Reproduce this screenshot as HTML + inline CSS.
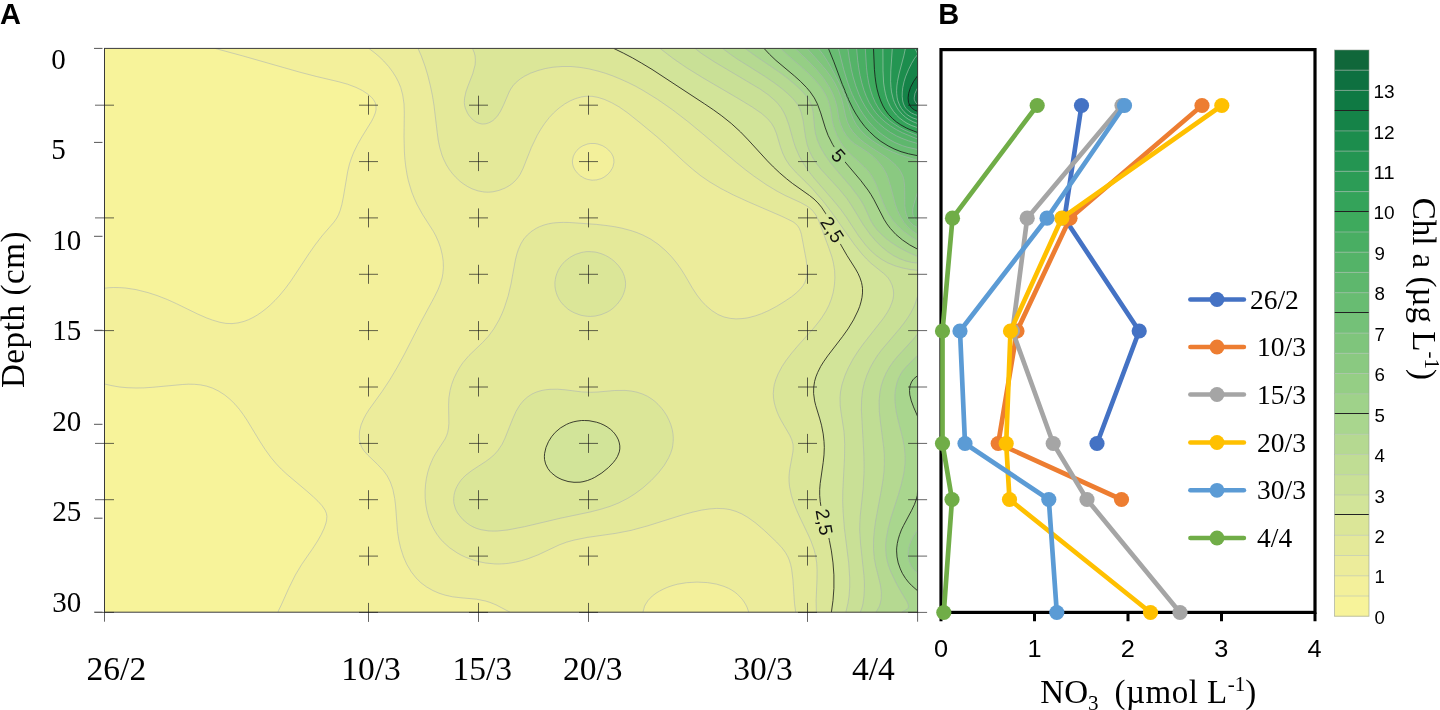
<!DOCTYPE html>
<html><head><meta charset="utf-8"><title>Figure</title>
<style>html,body{margin:0;padding:0;background:#fff;overflow:hidden}svg{display:block}</style></head>
<body><svg width="1440" height="710" viewBox="0 0 1440 710" style="opacity:0.999">
<rect width="1440" height="710" fill="#fff"/>
<defs><mask id="lblmask" maskUnits="userSpaceOnUse" x="0" y="0" width="1440" height="710"><rect x="0" y="0" width="1440" height="710" fill="#fff"/><rect x="829.5" y="146.5" width="18" height="18" fill="#000" transform="rotate(48 838.5 155.5)"/><rect x="816" y="220.5" width="33" height="18" fill="#000" transform="rotate(57 832.5 229.5)"/><rect x="808" y="513" width="33" height="18" fill="#000" transform="rotate(80 824.5 522)"/></mask><clipPath id="plotclip"><rect x="104.5" y="48.4" width="813.1" height="563.8"/></clipPath></defs>
<text x="0" y="24.3" font-family='"Liberation Sans", sans-serif' font-weight="700" font-size="29">A</text>
<text x="938.2" y="24.3" font-family='"Liberation Sans", sans-serif' font-weight="700" font-size="29">B</text>
<g clip-path="url(#plotclip)">
<rect x="104.5" y="48.4" width="813.1" height="563.8" fill="#f7f39a"/>
<path d="M215,48.4 917.6,48.4 917.6,612.2 278,612.2 278.5,610.6 288.7,588.4 295.4,574.9 301.7,564.4 316.1,543.4 319.7,537.4 322.8,531.4 325.2,525.4 326.8,519.4 326.7,514.9 325.2,510.4 322,505.6 315,498.4 308.4,492.4 287,474.4 280.6,468.4 275.5,463 270,456.4 264.7,448.9 247,420.2 239.5,409.5 235,404.2 230.1,399.4 224.6,394.9 218.5,391 212.5,388.1 206.5,386.1 200.5,384.9 194.5,384.3 182.5,384.5 152.5,387.3 136,388 127,387.7 119.5,387 112,385.7 104.5,384 104.5,288.2 113.5,287.5 125.5,288 136,289.6 148,292.6 157,295.5 167.5,299.6 197.4,313.9 207.8,318.4 216.4,321.4 223,323 227.5,323.5 232,323.6 236.5,323.2 241,322.3 245.5,320.9 250,319 254.5,316.7 259.1,313.9 265,309.5 271,304.3 277,298.3 283,291.4 293,277.9 308.8,253.9 316,243.6 322,235.9 332.5,223.9 337,217.7 339.7,211.9 341.5,205.9 343.4,196.9 347.4,172.9 349.1,165.4 351,159.4 353.9,151.9 357.6,144.4 361.9,136.9 371.5,121.3 373.5,117.4 375.7,111.4 376.1,108.4 376,105.4 375.1,102.4 373.3,99.4 371.5,97.3 368.5,94.6 364,91.5 359.5,89 350.5,85.2 340,82.1 316,76.4 298,71.7 242.7,55.9 215.5,48.6Z" fill="#f3f09b" fill-rule="evenodd"/>
<path d="M368.8,48.4 917.6,48.4 917.6,612.2 748.7,612.2 747.3,607.9 745.9,604.9 742,599 737.5,594.3 731.4,589.9 724,586.4 716.5,584.1 707.5,582.6 697,582.1 686.5,582.7 677.5,584.2 668.5,586.9 659.5,591.1 656.5,592.9 652.4,595.9 648.1,600.4 645.2,604.9 643,612.2 510,612.2 496.1,604.9 490,602.4 485.5,601 476.5,599.2 452.5,596.8 446.5,595.5 440.5,593.7 433,590.6 427,587.2 422.4,583.9 417.4,579.4 412.3,573.4 407.6,565.9 403.5,556.9 400.6,547.9 398.9,540.4 397.5,531.4 395.6,505.9 394.7,498.4 393.2,490.9 390.9,483.4 388,477.2 383.5,470.8 379,465.9 366.2,453.4 362.6,448.9 361,445.7 359.7,441.4 359.3,438.4 359.3,433.9 359.9,429.4 361.1,424.9 362.9,420.4 365.1,415.9 370.9,406.9 385,387.3 395.5,370.4 403,356.8 422,319.9 436.5,292.9 440.3,283.9 442.4,276.4 443.4,268.9 443.2,261.4 442.7,256.9 441.4,250.9 439.6,244.9 437.5,239.5 433,230.6 422.5,214.4 417,204.4 411.9,192.4 408.3,180.4 405.8,166.9 404.4,151.9 404,136.9 404.3,112.9 404,103.9 402.7,94.9 400.7,87.4 398.5,82.1 395.8,76.9 393,72.4 389.5,67.6 385,62.4 380.5,57.9 376,53.9 370,49.3ZM587.5,144 583,145.7 580.1,147.4 577,150.2 575.5,152.1 573.9,154.9 572.6,159.4 572.4,162.4 572.9,165.4 574.1,168.4 577,172.7 580,175.5 582.8,177.4 586,178.9 590.5,180 593.5,180.2 598,179.6 601,178.7 604,177.2 607,175.1 610,171.9 612.2,168.4 613.3,165.4 614,160.9 613.5,157.9 612.3,154.9 610,151.5 607,148.6 604,146.5 601,145.1 596.5,143.8 592,143.4 589,143.7Z" fill="#ecec9b" fill-rule="evenodd"/>
<path d="M418,48.4 917.6,48.4 917.6,612.2 795.7,612.2 794.5,603.4 792.9,579.4 791.6,568.9 790.6,564.4 789.2,559.9 787.2,555.4 785.4,552.4 780.7,546.4 772,537.6 761.5,527.9 752.5,520.6 745,515.7 739,512.6 733,510.4 727,509 721,508.5 715,508.5 707.5,509.2 700,510.4 683.5,514.6 647.5,525.9 631,530.4 616,533.3 587.4,537.4 572.9,540.4 566.5,542.2 559.2,544.9 539.5,554.2 529,558.4 517,561.8 506.5,563.5 497.5,564 488.5,563.4 479.5,561.8 470.5,559.2 461.5,555.3 454,550.9 448,546.4 441.7,540.4 437.5,535.1 434.2,529.9 431.2,523.9 428.4,516.4 426.8,510.4 425.6,502.9 425.1,495.4 425.2,487.9 426.1,480.4 427.3,474.4 428.9,468.4 431.2,462.4 435.7,453.4 445,439.1 446.7,435.4 447.7,432.4 448.5,427.9 448.9,423.4 448.6,405.4 448.8,399.4 449.5,393.4 451.2,385.9 453.3,379.9 456,373.9 458.5,369.3 462.4,363.4 469,355.5 482.7,342.4 488.3,336.4 493.8,328.9 499,320 504.3,307.9 508.2,295.9 511,283.9 515.4,259.9 518.4,249.4 521.1,243.4 523.9,238.9 527.5,234.8 532,231 536.1,228.4 539.5,226.7 544,225 548.5,223.8 557.5,222.6 569.5,222.5 596.5,224.4 614.5,226.7 622,228.2 631,230.6 637,232.6 643,235.1 650.5,239 658,244.1 665.5,250.5 671.5,256.7 676.6,262.9 680.9,268.9 692.5,288.3 697,295.1 701.5,300.9 706,305.7 712,310.7 718,314.5 724,317 730.4,318.4 736,318.9 742,318.6 748,317.8 755.5,315.8 761.5,313.7 769,310.4 776.5,306.4 784,301.8 791.5,296.8 796,293.2 800.5,288.9 803.2,285.4 805,282.2 806.5,277.9 807.2,273.4 807.2,268.9 806.2,259.9 801.4,234.4 799.3,228.4 797.5,225.7 795.8,223.9 791.5,221 782,216.4 748,201.7 733,194.8 721,188.6 709.7,181.9 700.9,175.9 692.5,169.2 683.5,161.3 657.1,136.9 627.7,112.9 619.1,106.9 611.5,102.6 604.3,99.4 598,97.4 592,96.3 586,96.3 581.5,96.9 575.5,98.6 570.1,100.9 564.8,103.9 559,108.1 553.6,112.9 549.4,117.4 544.7,123.4 540.7,129.4 537.2,135.4 531.4,147.4 523,168.6 520,174.6 515.5,180.5 512.5,183.3 509.5,185.5 505,188.1 499,190.4 493,191.8 488.5,192.2 484,192 478,190.9 472,188.8 467.5,186.5 460,181.3 455.8,177.4 452.5,173.7 449.5,169.8 446.5,165.1 443.7,159.4 442,155.2 439.7,147.4 438.2,139.9 434,105.4 430.4,85.9 427.8,75.4 425.1,66.4 421.3,55.9 418,48.4Z" fill="#e4e999" fill-rule="evenodd"/>
<path d="M472.5,48.4 917.6,48.4 917.6,612.2 816.4,612.2 816.1,600.4 817.1,570.4 816.7,562.9 815.5,555.4 814,549.4 811,541.1 796.7,510.4 793.7,502.9 791.4,495.4 789.5,486.4 789,477.4 789.9,468.4 792.9,451.9 793.2,448.9 793,444.4 791.8,439.9 790,435.7 781.1,420.4 776.9,411.4 774.2,402.4 773.5,397.9 773.3,393.4 773.8,387.4 775.7,379.9 778.1,373.9 782.1,366.4 786.1,360.4 791.8,352.9 813,328.9 821.5,318.1 826,311 829,305.1 831.4,298.9 833.1,292.9 834.6,283.9 834.9,276.4 834.4,268.9 833.1,261.4 829.9,250.9 819.4,222.4 817,217 814,212.3 811,209.1 806.5,205.8 800.5,202.5 785,195.4 776.6,190.9 766.6,184.9 755.6,177.4 745.6,169.9 736.3,162.4 702.8,133.9 686.4,120.4 670.6,108.4 656.5,98.7 641.5,89.5 626.5,81.8 611.5,75.4 596.5,70.6 587.5,68.6 578.5,67.2 569.5,66.5 562,66.5 553,67.2 545.5,68.5 538,70.5 530.5,73.2 524.5,76.2 520,79.1 515.5,82.9 512.9,85.9 509.2,91.9 503.4,105.4 500.5,111.3 497.5,115.9 494.5,119.2 490,122.3 485.5,123.8 481,123.8 476.5,122.3 472,119 469.3,115.9 467.5,113.2 465.4,108.4 464.6,105.4 464.3,102.4 464.6,97.9 465.9,91.9 472.7,73.9 475.1,64.9 475.4,60.4 475.3,57.4 474.7,54.4 473.2,49.9ZM581.7,252.4 589,251.6 595,252 601.9,253.9 608.2,256.9 614.4,261.4 618.7,265.9 621.8,270.4 624.4,276.4 625.4,280.9 625.4,286.9 623.9,292.9 621.1,298.9 617.5,303.9 613,308.3 607,312.2 601,314.7 595,316.1 587.5,316.3 580,315 574,312.7 568,309.2 563.3,304.9 559,299.1 556.3,292.9 555,286.9 554.9,282.4 555.3,279.4 556.9,273.4 559.9,267.4 563.5,262.8 568.4,258.4 574,255.1 577,253.8 581.5,252.4ZM542,390.4 550,389.3 557.5,389.2 565,389.8 581.5,391.9 590.5,392.3 598,392 614.5,390.5 625,390.4 631,391 637,392.2 643,394.2 647.5,396.3 652,399.2 655,401.5 658,404.3 661.7,408.4 666.9,415.9 669.1,420.4 670.9,424.9 672.2,429.4 673,433.9 673.2,441.4 672.1,448.9 670.6,453.4 668.6,457.9 664.2,465.4 658.4,472.9 651.3,480.4 642.9,487.9 634.8,493.9 627.6,498.4 618.8,502.9 610,506.4 601,509.2 590.5,511.9 560.5,518.2 524.5,526.7 507.9,529.9 497.5,531 488.5,530.9 481,529.7 476.5,528.4 473.1,526.9 467.5,523.5 462.7,519.4 458.5,514.3 455.5,508.9 454,503.8 453.7,498.4 454.6,492.4 457,486.4 460.8,480.4 466,475 472,470.4 488.6,459.4 493,455.8 496,452.8 500.1,447.4 503.5,441.5 506.5,434.8 514.6,414.4 517,409.6 520,404.8 524.5,399.6 529,395.9 535,392.6 541,390.6Z" fill="#dbe698" fill-rule="evenodd"/>
<path d="M613.7,48.4 917.6,48.4 917.6,612.2 831.4,612.2 833,600.4 833.9,588.4 833.9,574.9 833,562.9 831.4,550.9 829.4,540.4 821.1,507.4 820.2,501.4 819.7,495.4 819.7,489.4 820.2,483.4 824,454.9 824.3,447.4 824,441.4 823.2,433.9 821.5,425.2 814.6,400.9 813.6,393.4 813.7,387.4 814.6,381.4 815.9,376.9 817.7,372.4 820.7,366.4 826.6,357.4 842.6,336.4 849,327.4 855.1,316.9 859.1,307.9 861,301.9 862,297.4 862.5,292.9 862.5,288.4 861.8,283.9 861.1,280.9 859.4,276.4 857.2,271.9 845.5,253 841,245.1 835,233.2 828,217.9 824.7,211.9 821.7,207.4 818.5,203.6 814,199.1 809.5,195.5 792.4,183.4 779.7,172.9 767.4,160.9 748.2,139.9 740.5,131.9 731.2,123.4 721.8,115.9 704.6,103.9 652,69.4 632.5,57.9 614.5,48.7ZM573.2,421.9 577,421.1 581.5,420.5 589,420.7 596.5,422.2 603.6,424.9 610,428.9 614.5,433.4 617.7,438.4 618.9,441.4 619.6,444.4 619.8,448.9 619.3,451.9 618.2,454.9 616.7,457.9 614.6,460.9 610,466.1 602.5,472.4 595,477.2 587.7,480.4 581.5,482 575.5,482.4 569.5,481.8 563.5,480.2 557.5,477.4 553,474.2 550.1,471.4 548.5,469.4 546.9,466.9 545.6,463.9 544.5,459.4 544.6,453.4 546,447.4 548.5,441.6 551.5,436.8 555.2,432.4 560.5,427.9 566.5,424.4 572.5,422.1Z" fill="#d2e499" fill-rule="evenodd"/>
<path d="M660,48.4 917.6,48.4 917.6,612.2 845.9,612.2 847.9,603.4 849.1,595.9 849.7,586.9 849.7,577.9 848.7,562.9 844.4,528.4 843.1,511.9 842.7,501.4 842.8,490.9 844.5,457.9 844.7,444.4 843.9,430.9 840.2,405.4 840,397.9 840.5,391.9 842,384.4 844.4,376.9 847.5,369.4 852.3,360.4 856.9,352.9 862.1,345.4 884.4,316.9 888.2,310.9 890.5,306.4 892.7,300.4 893.6,294.4 893.3,289.9 891.7,283.9 889.2,279.4 885.3,274.9 871,263.3 866.5,258.9 862,254 854.7,244.9 831.3,211.9 823.3,201.4 812.5,188.9 796.4,172.9 789.7,165.4 785.7,159.4 782.8,153.4 780.6,147.4 776.5,133.6 774.2,127.9 771.5,123.4 767.5,118.6 761.5,113.4 752.1,106.9 737.2,97.9 703,77.9 686.5,67.7 673,58.4 661,49.2Z" fill="#c9e096" fill-rule="evenodd"/>
<path d="M695,48.4 917.6,48.4 917.6,270.5 910,269.5 902.5,268 895,265.8 887.5,262.7 881.5,259.3 876.1,255.4 871,250.9 865.5,244.9 858.6,235.9 846.8,217.9 841,209.8 834.2,201.4 814,178.1 808.8,171.4 803.7,163.9 799.4,156.4 795.5,147.4 788.9,124.9 785.6,115.9 783.3,111.4 781,107.7 778.1,103.9 775.3,100.9 768.4,94.9 760,89 714.4,61.9 701.5,53.5 695.5,48.8ZM917.1,297.4 917.6,296 917.6,612.2 860.3,612.2 862.4,606.4 863,603.4 864,595.9 864.4,588.4 863.9,574.9 860.5,543.4 859.7,529.9 860.2,516.4 863.2,487.9 864,472.9 863.8,453.4 861.4,409.9 861.6,399.4 862.6,390.4 864.3,382.9 866.8,375.4 870.1,367.9 873.4,361.9 877.2,355.9 881.6,349.9 899.5,328.8 907,318.9 910.2,313.9 913,308.7 915.3,303.4 916.6,298.9Z" fill="#c0dd94" fill-rule="evenodd"/>
<path d="M722.5,48.4 917.6,48.4 917.6,263.1 911.5,262.4 905.5,260.9 899.5,258.7 893.2,255.4 887.5,251.6 881.5,246.7 875.5,240.7 870.2,234.4 863.7,225.4 851.8,205.9 846.8,198.4 839.5,189.5 821.5,169.9 816.8,163.9 812.5,157.3 809.1,150.4 807.1,144.4 805.5,136.9 803.1,120.4 801.3,112.9 799.6,108.4 798,105.4 796,102.4 793,98.8 784.1,90.4 774.4,82.9 764.5,76.2 737,58.9 722.5,48.4ZM916.8,334.9 917.6,333.9 917.6,612.2 876,612.2 879.3,606.4 880.3,603.4 881.2,598.9 881.4,592.9 880.2,583.9 875.7,565.9 874.3,558.4 873.5,549.4 873.6,538.9 874.4,529.9 875.6,520.9 882.9,480.4 884,471.4 884.4,462.4 884.3,454.9 883.7,447.4 880.4,421.9 879.3,411.4 879.1,402.4 879.7,393.4 881.2,385.9 883.1,379.9 886.4,372.4 889.9,366.4 893.5,361.3 897.9,355.9 916,336Z" fill="#b5d991" fill-rule="evenodd"/>
<path d="M745,48.4 917.6,48.4 917.6,256.5 904,250.2 898,246.9 892,243 886.5,238.9 881.5,234.5 877.1,229.9 874,225.9 870.9,220.9 864.1,205.9 858.6,196.9 850.6,186.4 830.2,162.4 824.9,154.9 820.5,147.4 817.3,139.9 815.5,133.6 814.6,127.9 813.2,112.9 812,106.9 809.5,100.9 805.4,94.9 798.3,87.4 788.5,79.1 779.5,72.3 755.4,55.9 745,48.4ZM916.9,355.9 917.6,355.2 917.6,612.2 901.7,612.2 907,609.3 908.2,607.9 908.5,606.4 908.3,604.9 907.1,601.9 899.5,589.2 895,580.9 889.6,568.9 887.7,562.9 886.4,556.9 885.8,550.9 885.8,543.4 886.9,534.4 889.2,523.9 892,514.2 899.1,492.4 902.4,480.4 904.1,471.4 905,463.9 905,453.4 903.9,444.4 902,435.4 897.1,415.9 895.4,406.9 894.8,397.9 895.5,388.9 896.5,384.4 897.9,379.9 899.9,375.4 901.7,372.4 906.5,366.4 916,356.8Z" fill="#a9d68e" fill-rule="evenodd"/>
<path d="M764,48.4 917.6,48.4 917.6,249.2 909.7,244.9 902.5,240 895.8,234.4 890.3,228.4 886.9,223.9 884.1,219.4 874,199.8 868,190.1 860.5,180.2 844,160.7 837.3,151.9 832.6,144.4 828.1,135.4 825.3,127.9 820.7,112.9 817.4,103.9 814.3,97.9 810.2,91.9 806.4,87.4 800.5,81.4 794.5,76 775.9,60.4 769.6,54.4 764.5,48.9ZM916,376.9 917.6,375.7 917.6,416.4 911.5,401.4 910.1,396.4 909.5,391.9 909.7,387.4 911,382.9 913,379.8 916,376.9ZM917.6,490.9 917.6,490.4 917.6,590.8 911.5,585.4 908.5,582.2 905.5,578.4 902.4,573.4 900.3,568.9 898.2,562.9 897,556.9 896.6,550.9 897.3,543.4 899.7,534.4 903.6,525.4 911.6,510.4 914.5,504.4 917,496.9 917.6,492.4Z" fill="#9fd28a" fill-rule="evenodd"/>
<path d="M780.7,48.4 917.6,48.4 917.6,240.7 911.5,237.1 904,231.6 898,226.1 893.4,220.9 889.2,214.9 885.9,208.9 883,202.2 876.4,184.9 873.5,178.9 871,174.7 868,170.8 864.4,166.9 851.5,155.1 847,150.6 844,147.1 841,142.8 837.1,135.4 833.7,126.4 832.2,120.4 830.4,108.4 828.4,100.9 826,95.3 821.5,87.9 817,82.2 809.5,74.3 787,54.5 781,48.7ZM916.6,531.4 917.6,530 917.6,573.2 914.5,570.4 911.1,565.9 909.2,561.4 908.5,558.4 908.2,555.4 908.6,549.4 910,543.6 912.7,537.4 916,532.1Z" fill="#95ce85" fill-rule="evenodd"/>
<path d="M795,48.4 917.6,48.4 917.6,234.5 913,231.4 907.9,226.9 904.1,222.4 900.4,216.4 897.5,210.4 895.4,204.4 890.2,184.9 887.9,177.4 886,172.9 882.5,166.9 877.7,160.9 873.1,156.4 867.3,151.9 854.5,143.7 850.1,139.9 846.3,135.4 843.5,130.9 840.8,124.9 839,118.9 837,106.9 835.4,100.9 832.6,93.4 829,86.5 823.7,78.4 816.3,69.4 808,60.7 796,49.4Z" fill="#8ac981" fill-rule="evenodd"/>
<path d="M807,48.4 917.6,48.4 917.6,227.5 913.7,225.4 910.4,222.4 908.3,219.4 906.4,214.9 905.3,210.4 904.8,205.9 904.7,187.9 904.2,181.9 902.8,175.9 900.6,171.4 898.6,168.4 896,165.4 891.1,160.9 885,156.4 864.6,142.9 857.5,137 853,131.9 850,127.5 847.3,121.9 845.5,115.9 843.3,105.4 841.3,97.9 838.4,90.4 834.7,82.9 830.5,76.2 826,70.1 808,49.6Z" fill="#7fc57c" fill-rule="evenodd"/>
<path d="M818.3,48.4 917.6,48.4 917.6,160.2 907,157.2 899.5,154.7 892,151.7 884.5,148.2 877,143.9 872.5,140.9 866.5,136.2 861.1,130.9 856.4,124.9 853.1,118.9 844.8,94.9 839.5,83.4 827.5,61.4 823,54.4 818.5,48.6ZM917.5,192.4 917.6,192.1 917.6,221 915.5,219.4 914.3,217.9 913,214.9 912.7,211.9 912.8,208.9 913.8,204.4 917,193.9Z" fill="#74c178" fill-rule="evenodd"/>
<path d="M828.4,48.4 917.6,48.4 917.6,155.7 908.5,153.8 901,151.7 894,148.9 888.1,145.9 880.9,141.4 875.1,136.9 869.5,131.6 864.7,126.4 860.5,120.9 856,114.1 853,108.8 848.5,99.6 842.3,84.4 833.9,61.9 829,49.8Z" fill="#68bc72" fill-rule="evenodd"/>
<path d="M838.4,48.4 917.6,48.4 917.6,149.5 907,147.1 902.5,145.7 895,142.6 889,139.3 883,135.2 877.6,130.9 872.5,125.9 867.7,120.4 863.3,114.4 859.5,108.4 853.8,97.9 853,95.8 852.3,94.9 851.5,92.3 850.4,90.4 850.1,88.9 848.8,85.9 848.5,84.4 847.8,82.9 844.1,70.9 838.8,49.9Z" fill="#5eb76d" fill-rule="evenodd"/>
<path d="M847.8,48.4 917.6,48.4 917.6,143.5 908.5,140.8 902.5,138.6 896.5,135.9 890.5,132.5 884.5,128.3 878.7,123.4 874,118.6 869.5,113.1 865.4,106.9 862,100.9 859,94.4 855.8,85.9 853.1,76.9 851.3,69.4 849.6,60.4 848.1,49.9Z" fill="#54b368" fill-rule="evenodd"/>
<path d="M856.6,48.4 917.6,48.4 917.6,139 902.5,132.8 896.5,129.7 890.5,126 885,121.9 880,117.4 876,112.9 872.7,108.4 870,103.9 867,97.9 864.6,91.9 862.2,84.4 860,75.4 858.7,67.9 856.8,49.9Z" fill="#49ae63" fill-rule="evenodd"/>
<path d="M865.3,48.4 917.6,48.4 917.6,135.5 904,129.8 899.5,127.4 893.3,123.4 889.3,120.4 884.5,115.9 880.7,111.4 877.7,106.9 875.2,102.4 872.6,96.4 870.6,90.4 868.7,82.9 867.4,75.4 866.5,67.9 865.4,49.9Z" fill="#3eaa5d" fill-rule="evenodd"/>
<path d="M873.5,48.4 917.6,48.4 917.6,132.5 906.2,127.9 900.8,124.9 896.4,121.9 892.8,118.9 889,115 886.2,111.4 883.5,106.9 881.3,102.4 879.1,96.4 877.4,90.4 876.2,84.4 874.4,69.4 873.6,49.9Z" fill="#34a35a" fill-rule="evenodd"/>
<path d="M882.9,48.4 917.6,48.4 917.6,127.6 911.5,125.5 907,123.3 904,121.4 899.5,118 896.5,115.1 893.5,111.4 890.5,106.9 888.3,102.4 886.6,97.9 885.4,93.4 883.6,82.9 883,70.9 882.9,49.9Z" fill="#2c9c56" fill-rule="evenodd"/>
<path d="M892.3,48.4 917.6,48.4 917.6,123.5 913,121.7 908.5,119.3 905.5,117.2 902.5,114.6 899.7,111.4 897.5,108.4 895.8,105.4 893.8,100.9 892.5,96.4 891.5,91.9 890.6,81.4 890.8,70.9 892.3,49.9Z" fill="#249552" fill-rule="evenodd"/>
<path d="M905.4,48.4 917.6,48.4 917.6,119.5 913,118 910,116.5 906.9,114.4 904,111.7 901.4,108.4 899.7,105.4 897.9,100.9 897.2,97.9 896.6,90.4 897.5,81.4 899,73.9 905.2,49.9Z" fill="#1c8d4d" fill-rule="evenodd"/>
<path d="M914.8,48.4 917.6,48.4 917.6,115.5 911.3,112.9 908.5,110.9 906,108.4 903.5,103.9 902.7,100.9 902.2,96.4 902.3,91.9 902.8,87.4 904,81.8 905.5,76.9 908.5,69.6 911.5,63.6 914.5,58.4 917.5,54.4 917.2,52.9 915.5,49.9Z" fill="#158348" fill-rule="evenodd"/>
<path d="M916.7,76.9 917.6,75.7 917.6,111.4 913,109 910.8,106.9 909.1,103.9 908.1,99.4 908.3,94.9 909.9,88.9 912.7,82.9 916,77.8Z" fill="#0f7943" fill-rule="evenodd"/>
<path d="M917.1,88.9 917.6,88 917.6,104.5 915.6,102.4 914.3,99.4 914.2,97.9 914.6,94.9 916.3,90.4Z" fill="#0e7040" fill-rule="evenodd"/>
<path d="M104.5,288.2 109,287.7 113.5,287.5 119.5,287.6 125.5,288 136,289.6 148,292.6 157,295.5 167.5,299.6 176.5,303.7 197.4,313.9 206.5,317.9 212.5,320.1 220,322.3 226,323.4 232,323.6 238,322.9 244,321.4 248.5,319.7 253,317.5 257.5,314.9 262,311.8 266.5,308.3 270.4,304.9 275,300.4 279.2,295.9 285.4,288.4 290.9,280.9 308.8,253.9 315.1,244.9 322,235.9 334,222.1 336.9,217.9 338.5,214.8 340.2,210.4 341.9,204.4 343.4,196.9 347.7,171.4 349.5,163.9 351.5,157.9 353.9,151.9 357.6,144.4 361.9,136.9 371.5,121.3 373.5,117.4 375.3,112.9 376,109.9 376,105.4 375.1,102.4 373.3,99.4 371.5,97.3 368.5,94.6 362.5,90.6 356,87.4 347.5,84.2 338.5,81.7 316,76.4 299.5,72.1 242.7,55.9 215,48.4M278,612.2 278.5,610.6 281.3,604.9 288.7,588.4 295.4,574.9 301.7,564.4 313,548.1 317.5,541.1 321.3,534.4 324.1,528.4 325.7,523.9 326.5,520.9 326.9,516.4 326.4,513.4 325.2,510.4 322.2,505.9 318.1,501.4 313.4,496.9 306.6,490.9 287,474.4 281.5,469.3 276.3,463.9 271,457.6 265,449.3 259.9,441.4 247,420.2 243.1,414.4 239.5,409.5 235,404.2 230.1,399.4 224.6,394.9 218.5,391 212.5,388.1 206.5,386.1 200.5,384.9 194.5,384.3 188.5,384.2 182.5,384.5 152.5,387.3 143.5,387.9 136,388 127,387.7 119.5,387 112,385.7 104.5,384M587.5,144 583,145.7 580,147.5 577,150.2 574.7,153.4 573.3,156.4 572.4,160.9 572.6,163.9 573.4,166.9 574.9,169.9 577.2,172.9 580.5,175.9 584.5,178.3 587.5,179.4 592,180.2 596.5,179.9 601,178.7 604,177.2 607.7,174.4 610,171.9 612.2,168.4 613,166.6 613.9,162.4 613.8,159.4 613,156.4 611.5,153.4 608.5,149.9 605.5,147.5 602.5,145.7 598,144.1 595,143.5 590.5,143.5 587.5,144M510,612.2 496.1,604.9 490,602.4 485.5,601 476.5,599.2 460,597.7 452.5,596.8 445,595.1 439,593.2 433,590.6 426.5,586.9 421,582.8 416,577.9 411.3,571.9 406.8,564.4 403.5,556.9 400.6,547.9 398.9,540.4 397.5,531.4 395.6,505.9 394.7,498.4 392.9,489.4 390.3,481.9 387.2,475.9 383.5,470.8 377.5,464.4 367.6,454.9 364,450.9 361.8,447.4 360.1,442.9 359.5,439.9 359.3,436.9 359.6,430.9 361.1,424.9 363.6,418.9 366,414.4 368.8,409.9 382,391.6 389.5,380.3 397,367.7 404.5,354 420.4,322.9 434.2,297.4 437.9,289.9 440.3,283.9 442.1,277.9 442.9,273.4 443.4,267.4 443.2,261.4 442.4,255.4 440.6,247.9 438.5,241.9 435.8,235.9 433.4,231.4 422.5,214.4 417,204.4 414.3,198.4 411.9,192.4 410,186.4 408.3,180.4 407,174.4 405.8,166.9 404.9,159.4 404.4,151.9 404,136.9 404.3,112.9 404,103.9 402.7,94.9 400.7,87.4 398.5,82.1 395.8,76.9 392.5,71.7 388.5,66.4 383.5,60.8 379,56.5 374.5,52.7 368.8,48.4M748.7,612.2 747.3,607.9 745.9,604.9 744.1,601.9 742,599 737.5,594.3 734.5,591.9 731.4,589.9 728.5,588.3 724,586.4 716.5,584.1 707.5,582.6 697,582.1 686.5,582.7 677.5,584.2 673,585.4 668.5,586.9 664,588.8 659.5,591.1 656.5,592.9 652.4,595.9 648.1,600.4 645.2,604.9 644.5,606.4 643,612.2M795.7,612.2 794.5,603.4 792.9,579.4 791.6,568.9 790.6,564.4 789.2,559.9 787.9,556.9 785.5,552.6 782,547.9 776.5,542 764.5,530.6 755.5,522.9 748,517.5 742,514 736,511.4 730,509.6 724,508.7 716.5,508.4 709,509 701.5,510.1 692.5,512.2 683.5,514.6 647.5,525.9 631,530.4 616,533.3 587.4,537.4 574,540.1 566.5,542.2 559.2,544.9 538,554.9 527.5,558.9 521.5,560.7 515.5,562.1 509.5,563.2 505,563.7 499,564 494.5,563.9 485.5,563 479.5,561.8 475,560.6 466,557.4 461.5,555.3 457,552.8 449.5,547.7 443.1,541.9 440.4,538.9 437,534.4 434.2,529.9 431.2,523.9 428.9,517.9 427.2,511.9 426,505.9 425.2,498.4 425.1,490.9 425.5,484.9 426.3,478.9 427.6,472.9 429.4,466.9 431.2,462.4 433.2,457.9 435.7,453.4 445,439.1 446.7,435.4 447.7,432.4 448.5,427.9 448.9,423.4 448.6,405.4 448.9,397.9 450.1,390.4 451.7,384.4 453.9,378.4 456.8,372.4 460,366.9 463,362.5 469,355.5 482.7,342.4 488.3,336.4 493.8,328.9 499,320 501.9,313.9 504.3,307.9 508.2,295.9 511,283.9 515.4,259.9 516.9,253.9 518.4,249.4 521.1,243.4 523.9,238.9 527.5,234.8 532,231 536.1,228.4 539.5,226.7 544,225 548.5,223.8 553,223 557.5,222.6 563.5,222.4 569.5,222.5 596.5,224.4 607,225.6 614.5,226.7 622,228.2 631,230.6 637,232.6 643,235.1 650.5,239 658,244.1 665.5,250.5 671.5,256.7 676.6,262.9 680.9,268.9 684.7,274.9 692.5,288.3 697,295.1 701.5,300.9 706,305.7 712,310.7 718,314.5 724,317 730.4,318.4 736,318.9 742,318.6 748,317.8 755.5,315.8 761.5,313.7 769,310.4 776.5,306.4 784,301.8 791.5,296.8 796,293.2 800.5,288.9 803.2,285.4 805,282.2 806.5,277.9 807.2,273.4 807.2,268.9 806.2,259.9 801.4,234.4 800.5,231.4 799.3,228.4 797.5,225.7 795.8,223.9 793.9,222.4 791.5,221 782,216.4 748,201.7 733,194.8 721,188.6 709.7,181.9 700.9,175.9 692.5,169.2 683.5,161.3 665.5,144.4 657.1,136.9 640.8,123.4 627.7,112.9 619.1,106.9 611.5,102.6 604.3,99.4 598,97.4 592,96.3 586,96.3 581.5,96.9 575.5,98.6 570.1,100.9 564.8,103.9 559,108.1 553.6,112.9 549.4,117.4 544.7,123.4 540.7,129.4 537.2,135.4 531.4,147.4 523,168.6 520,174.6 518.1,177.4 515.5,180.5 512.5,183.3 509.5,185.5 505,188.1 499,190.4 493,191.8 488.5,192.2 484,192 478,190.9 472,188.8 467.5,186.5 463,183.6 460,181.3 455.8,177.4 452.5,173.7 449.5,169.8 446.5,165.1 443.7,159.4 442,155.2 439.7,147.4 438.2,139.9 437.2,132.4 434,105.4 432.3,94.9 430.4,85.9 427.8,75.4 425.1,66.4 421.3,55.9 418,48.4M581.7,252.4 586,251.7 589,251.6 595,252 598,252.7 601.9,253.9 605.4,255.4 608.2,256.9 611.5,259.1 614.4,261.4 618.7,265.9 621.8,270.4 623.3,273.4 624.4,276.4 625.4,280.9 625.6,283.9 625.4,286.9 624.8,289.9 623.9,292.9 622.7,295.9 621.1,298.9 617.5,303.9 613,308.3 610,310.5 607,312.2 601,314.7 595,316.1 590.5,316.4 587.5,316.3 583,315.7 580,315 574,312.7 571,311.1 568,309.2 563.3,304.9 560.8,301.9 559,299.1 557.4,295.9 556.3,292.9 555.5,289.9 555,286.9 554.9,282.4 555.3,279.4 555.9,276.4 556.9,273.4 558.2,270.4 559.9,267.4 562.1,264.4 564.8,261.4 569.5,257.7 572.5,255.9 575.5,254.4 581.7,252.4M542,390.4 545.5,389.8 550,389.3 557.5,389.2 565,389.8 581.5,391.9 590.5,392.3 598,392 614.5,390.5 625,390.4 631,391 637,392.2 643,394.2 647.5,396.3 652,399.2 655,401.5 658,404.3 661.7,408.4 664,411.4 666.9,415.9 669.1,420.4 670.9,424.9 672.2,429.4 673,433.9 673.3,438.4 673.2,441.4 672.7,445.9 672.1,448.9 670.6,453.4 668.6,457.9 664.2,465.4 658.4,472.9 651.3,480.4 642.9,487.9 634.8,493.9 627.6,498.4 618.8,502.9 610,506.4 601,509.2 590.5,511.9 560.5,518.2 524.5,526.7 507.9,529.9 497.5,531 493,531.1 488.5,530.9 481,529.7 476.5,528.4 473.1,526.9 470.5,525.5 467.5,523.5 462.7,519.4 458.5,514.3 457,511.9 455.5,508.9 454,503.8 453.7,501.4 453.7,498.4 454,495.4 454.6,492.4 455.6,489.4 457,486.4 458.7,483.4 460.8,480.4 463,477.9 466,475 472,470.4 485.5,461.6 490,458.3 494.5,454.4 498,450.4 502,444.4 504.9,438.4 512.7,418.9 516,411.4 519.6,405.4 523,401.1 527.5,397 532,394 536.5,392 542,390.4M816.4,612.2 816.1,600.4 817,579.4 817.1,570.4 816.7,562.9 815.5,555.4 814,549.4 811,541.1 808,534.3 800.1,517.9 796.7,510.4 793.7,502.9 791.4,495.4 789.5,486.4 789.1,481.9 789,477.4 789.3,472.9 789.9,468.4 792.9,451.9 793.2,448.9 793,444.4 791.8,439.9 790,435.7 781.1,420.4 778.8,415.9 776.9,411.4 775.4,406.9 774.2,402.4 773.5,397.9 773.3,393.4 773.8,387.4 774.4,384.4 775.7,379.9 778.1,373.9 782.1,366.4 786.1,360.4 791.8,352.9 798.2,345.4 813,328.9 817.9,322.9 821.5,318.1 826,311 829,305.1 831.4,298.9 833.1,292.9 834.4,285.4 834.9,277.9 834.6,270.4 833.4,262.9 831.9,256.9 829,248.4 818.8,220.9 815.8,214.9 812.4,210.4 809.5,207.9 806.5,205.8 800.5,202.5 785,195.4 776.6,190.9 766,184.5 753.6,175.9 745.6,169.9 736.3,162.4 702.8,133.9 688.3,121.9 672.7,109.9 657.6,99.4 643,90.4 635.5,86.2 628,82.5 620.5,79.1 613,76 605.5,73.3 598,71.1 589,68.9 580,67.4 571,66.5 562,66.5 553,67.2 545.5,68.5 538,70.5 530.5,73.2 524.5,76.2 520,79.1 515.5,82.9 512.9,85.9 510.8,88.9 509.2,91.9 503.4,105.4 500.5,111.3 497.5,115.9 494.5,119.2 493,120.5 490,122.3 487.3,123.4 485.5,123.8 482.5,124 481,123.8 479.3,123.4 476.5,122.3 473.7,120.4 472,119 469.3,115.9 467.5,113.2 465.4,108.4 464.6,105.4 464.3,102.4 464.6,97.9 465.9,91.9 468,85.9 472.7,73.9 475.1,64.9 475.4,60.4 475.1,55.9 474.3,52.9 472.5,48.4M845.9,612.2 847.9,603.4 849.1,595.9 849.7,586.9 849.7,577.9 848.7,562.9 844.4,528.4 843.1,511.9 842.7,501.4 842.8,490.9 844.5,457.9 844.7,444.4 844.4,436.9 843.9,430.9 840.9,411.4 840.2,405.4 840,397.9 840.5,391.9 842,384.4 845,375.4 848.3,367.9 853.1,358.9 857.9,351.4 863.3,343.9 883.3,318.4 887.3,312.4 889.8,307.9 892.2,301.9 893,298.9 893.5,295.9 893.6,292.9 893.3,289.9 892.2,285.4 890.1,280.9 888.1,277.9 886.8,276.4 883.6,273.4 871,263.3 866.5,258.9 861.9,253.9 854.7,244.9 831.3,211.9 823.3,201.4 812.5,188.9 806.5,182.7 796.4,172.9 789.7,165.4 785.7,159.4 782.8,153.4 780.6,147.4 776.5,133.6 774.2,127.9 771.5,123.4 767.5,118.6 761.5,113.4 752.1,106.9 737.2,97.9 703,77.9 686.5,67.7 673,58.4 660,48.4M917.6,270.5 916,270.1 910,269.5 902.5,268 895,265.8 887.5,262.7 881.5,259.3 876.1,255.4 871,250.9 865.5,244.9 858.6,235.9 846.8,217.9 841,209.8 834.2,201.4 814,178.1 808.8,171.4 803.7,163.9 799.4,156.4 795.5,147.4 793.5,141.4 788.9,124.9 785.6,115.9 783.3,111.4 781,107.7 778.1,103.9 775.3,100.9 768.4,94.9 760,89 714.4,61.9 701.5,53.5 695,48.4M860.3,612.2 862.4,606.4 863,603.4 864,595.9 864.4,588.4 864.4,582.4 863.9,574.9 860.5,543.4 859.7,529.9 859.8,523.9 860.2,516.4 863.2,487.9 864,472.9 864.1,463.9 863.8,453.4 861.4,409.9 861.6,399.4 862.6,390.4 864.3,382.9 866.8,375.4 870.1,367.9 873.4,361.9 877.2,355.9 881.6,349.9 899.5,328.8 904,323.1 907.3,318.4 910.2,313.9 913.4,307.9 915.3,303.4 917.6,296M917.6,263.1 911.5,262.4 905.5,260.9 899.5,258.7 893.2,255.4 887.5,251.6 881.5,246.7 875.5,240.7 870.2,234.4 863.7,225.4 851.8,205.9 846.8,198.4 839.5,189.5 821.5,169.9 816.8,163.9 812.5,157.3 809.1,150.4 807.1,144.4 805.5,136.9 803.1,120.4 801.3,112.9 799.6,108.4 798,105.4 796,102.4 793,98.8 789.1,94.9 784.1,90.4 774.4,82.9 764.5,76.2 737,58.9 730.5,54.4 722.5,48.4M876,612.2 879.3,606.4 880.3,603.4 881.2,598.9 881.4,592.9 880.9,588.4 880.2,583.9 875.7,565.9 874.3,558.4 873.5,549.4 873.6,538.9 874.4,529.9 875.6,520.9 881.2,490.9 882.9,480.4 884,471.4 884.4,462.4 884.3,454.9 883.7,447.4 880.4,421.9 879.3,411.4 879.1,400.9 880,391.9 881.2,385.9 883.7,378.4 886.4,372.4 889.9,366.4 893.1,361.9 896.6,357.4 913.2,339.4 917.6,333.9M917.6,256.5 910,253.2 904,250.2 898,246.9 892,243 886.5,238.9 881.5,234.5 877.1,229.9 874,225.9 870.9,220.9 864.1,205.9 861.5,201.4 858.6,196.9 850.6,186.4 836.3,169.9 830.2,162.4 824.9,154.9 820.5,147.4 817.3,139.9 815.5,133.6 814.6,127.9 813.2,112.9 812,106.9 809.5,100.9 805.4,94.9 802,91.1 798.3,87.4 788.5,79.1 779.5,72.3 755.4,55.9 745,48.4M901.7,612.2 902.5,611.6 907,609.3 908.2,607.9 908.5,606.4 908.3,604.9 907.1,601.9 899.9,589.9 895.8,582.4 890.8,571.9 888.6,565.9 886.9,559.9 886.2,555.4 885.7,549.4 885.7,544.9 886.2,538.9 888.1,528.4 890.9,517.9 898.6,493.9 901.2,484.9 903.9,472.9 905,463.9 905.1,456.4 904.4,447.4 902.7,438.4 898,419.9 896.2,411.4 895,402.4 894.9,394.9 895.5,388.9 896.9,382.9 898.5,378.4 900.8,373.9 902.7,370.9 905.5,367.5 917.6,355.2M917.6,240.7 911.5,237.1 904,231.6 898,226.1 893.4,220.9 889.2,214.9 885.9,208.9 883,202.2 876.4,184.9 873.5,178.9 871,174.7 868,170.8 864.4,166.9 851.5,155.1 847,150.6 844,147.1 841,142.8 837.1,135.4 835.2,130.9 833.7,126.4 832.2,120.4 830.4,108.4 829.4,103.9 828.4,100.9 826,95.3 824.5,92.6 821.5,87.9 817,82.2 809.5,74.3 802.5,67.9 787,54.5 780.7,48.4M917.6,573.2 914.5,570.5 913.1,568.9 911.5,566.6 910.4,564.4 909.2,561.4 908.5,558.4 908.2,553.9 908.4,550.9 908.8,547.9 910.6,541.9 913.5,535.9 917.6,530M917.6,234.5 913,231.4 907.9,226.9 904.1,222.4 900.4,216.4 897.5,210.4 895.4,204.4 890.2,184.9 887.9,177.4 886,172.9 882.5,166.9 877.7,160.9 873.1,156.4 867.3,151.9 854.5,143.7 850.1,139.9 846.3,135.4 843.5,130.9 840.8,124.9 839,118.9 837,106.9 835.4,100.9 832.6,93.4 829,86.5 823.7,78.4 816.3,69.4 808,60.7 795,48.4M917.6,227.5 913.7,225.4 910.4,222.4 908.3,219.4 906.4,214.9 905.3,210.4 904.8,205.9 904.7,187.9 904.2,181.9 903.7,178.9 902.8,175.9 900.6,171.4 898.6,168.4 896,165.4 891.1,160.9 885,156.4 871,147.4 864.6,142.9 860.8,139.9 857.5,137 853,131.9 850,127.5 847.3,121.9 845.5,115.9 843.3,105.4 841.3,97.9 838.4,90.4 834.7,82.9 830.5,76.2 826,70.1 820,63 807,48.4M917.6,160.2 907,157.2 899.5,154.7 892,151.7 884.5,148.2 877,143.9 872.5,140.9 866.5,136.2 861.1,130.9 856.4,124.9 853.1,118.9 850.8,112.9 848.1,103.9 844.8,94.9 839.5,83.4 832,69.3 827.5,61.4 823,54.4 818.3,48.4M917.6,221 915.5,219.4 914.3,217.9 913,214.9 912.7,211.9 912.8,208.9 913.8,204.4 917.6,192.1M917.6,149.5 907,147.1 902.5,145.7 895,142.6 889,139.3 883,135.2 877.6,130.9 872.5,125.9 867.7,120.4 863.3,114.4 859.5,108.4 853.8,97.9 853,95.8 852.3,94.9 851.5,92.3 850.4,90.4 850.1,88.9 849.3,87.4 848.5,84.4 847.8,82.9 843.7,69.4 838.4,48.4M917.6,143.5 908.5,140.8 902,138.4 896.5,135.9 890.4,132.4 884.5,128.3 878.7,123.4 874,118.6 869.4,112.9 865.4,106.9 862,100.9 859,94.4 855.8,85.9 853.1,76.9 851.3,69.4 849.6,60.4 847.8,48.4M917.6,139 902.5,132.8 896.5,129.7 890.5,126 885,121.9 880,117.4 876,112.9 872.7,108.4 869.1,102.4 866.3,96.4 864,90.4 861.8,82.9 860,75.4 858.7,67.9 857.7,60.4 856.6,48.4M917.6,135.5 908.5,131.8 904,129.8 899.5,127.4 893.3,123.4 889.3,120.4 884.5,115.9 880.7,111.4 877.7,106.9 875.2,102.4 872.6,96.4 870.6,90.4 868.7,82.9 867.4,75.4 866.5,67.9 865.3,48.4" fill="none" stroke="#aab2b6" stroke-opacity="0.8" stroke-width="0.7"/>
<path d="M917.6,127.6 911.5,125.5 907,123.3 904,121.4 899.5,118 896.5,115.1 893.5,111.4 890.5,106.9 888.3,102.4 886.6,97.9 885.4,93.4 884.5,88.9 883.6,82.9 883,70.9 882.9,48.4M917.6,123.5 913,121.7 908.5,119.3 905.5,117.2 902.3,114.4 898.5,109.9 896.6,106.9 894.4,102.4 893.3,99.4 891.5,91.9 891,87.4 890.6,81.4 890.8,70.9 892.3,48.4M917.6,119.5 913,118 910,116.5 906.9,114.4 904,111.7 901.4,108.4 899.7,105.4 897.9,100.9 897.2,97.9 896.7,93.4 896.6,90.4 896.9,85.9 897.5,81.4 899,73.9 903.8,55.9 905.4,48.4M917.6,115.5 914.5,114.4 911.3,112.9 908.5,110.9 906,108.4 904.9,106.9 903.5,103.9 902.7,100.9 902.2,96.4 902.3,91.9 902.8,87.4 904,81.8 905.5,76.9 908.5,69.6 911.5,63.6 914.5,58.4 916.6,55.9 917.5,54.4 917.2,52.9 914.8,48.4M917.6,104.5 916,103 914.8,100.9 914.3,99.4 914.2,97.9 915,93.4 916.3,90.4 917.6,88" fill="none" stroke="#c4d2c8" stroke-opacity="0.75" stroke-width="0.7"/>
<path d="M573.2,421.9 577,421.1 581.5,420.5 584.5,420.5 589,420.7 596.5,422.2 600.2,423.4 604,425.1 607,426.8 610.6,429.4 613,431.7 614.9,433.9 616.9,436.9 618.4,439.9 619.3,442.9 619.8,445.9 619.8,448.9 619.3,451.9 617.5,456.4 615.7,459.4 613.4,462.4 608.5,467.5 601.9,472.9 594.7,477.4 591.6,478.9 587.5,480.5 583,481.7 580,482.2 574,482.3 568,481.5 562,479.6 559,478.2 556,476.5 551.5,472.9 550,471.3 547.8,468.4 545.6,463.9 544.5,459.4 544.4,456.4 544.6,453.4 546,447.4 548.5,441.6 551.5,436.8 555.2,432.4 560.5,427.9 566.5,424.4 569.5,423.1 573.2,421.9M831.4,612.2 833,600.4 833.9,588.4 833.9,574.9 833,562.9 831.4,550.9 829.4,540.4 827.5,532.2 822.8,514.9 821.1,507.4 820.2,501.4 819.7,495.4 819.7,489.4 820.2,483.4 823.2,462.4 824,454.9 824.3,447.4 824,441.4 823.2,433.9 821.5,425.2 819.8,418.9 815.7,405.4 814.6,400.9 813.6,393.4 813.7,387.4 814.6,381.4 815.9,376.9 817.7,372.4 820.7,366.4 823.5,361.9 827.7,355.9 842.5,336.6 848,328.9 853.5,319.9 857.9,310.9 859.7,306.4 861,301.9 862,297.4 862.5,292.9 862.5,288.4 862.1,285.4 861.5,282.4 860,277.9 858,273.4 855.5,268.9 847,255.5 841,245.1 836.5,236.3 828.7,219.4 825.6,213.4 821.5,207.2 817.9,202.9 814,199.1 809.5,195.5 792.4,183.4 786.7,178.9 779.7,172.9 773.3,166.9 767.4,160.9 748.2,139.9 740.5,131.9 731.2,123.4 721.8,115.9 713.5,109.9 704.6,103.9 652,69.4 641.5,63.1 632.5,57.9 623.5,53.2 613.7,48.4M917.6,249.2 909.7,244.9 902.5,240 895.8,234.4 890.3,228.4 886.9,223.9 884.1,219.4 874,199.8 871,194.6 868,190.1 860.5,180.2 844,160.7 837.3,151.9 832.6,144.4 828.1,135.4 825.3,127.9 820.7,112.9 817.4,103.9 814.3,97.9 810.2,91.9 806.4,87.4 800.5,81.4 794.5,76 775.9,60.4 769.6,54.4 764,48.4M917.6,416.4 913.5,406.9 911.3,400.9 909.8,394.9 909.5,390.4 910,385.9 911.5,382 912.9,379.9 914.2,378.4 917.6,375.7M917.6,590.8 911.5,585.4 908.5,582.2 905.5,578.4 902.4,573.4 900.3,568.9 898.2,562.9 897,556.9 896.6,550.9 896.7,547.9 897.3,543.4 898.3,538.9 899.7,534.4 901.4,529.9 903.6,525.4 911.6,510.4 914.5,504.3 916.1,499.9 917.3,495.4 917.6,490.4M917.6,155.7 908.5,153.8 901,151.7 894,148.9 888.1,145.9 880.9,141.4 875.1,136.9 869.5,131.6 864.7,126.4 860.5,120.9 856,114.1 853,108.8 848.5,99.6 848,97.9 847,96.4 846.7,94.9 845.2,91.9 844.9,90.4 842.3,84.4 833.9,61.9 828.4,48.4M917.6,132.5 910,129.6 906.2,127.9 900.8,124.9 896.4,121.9 892.8,118.9 888.5,114.4 885.3,109.9 883,106 880.7,100.9 878.6,94.9 877,88.9 875.9,82.9 875.1,76.9 874.4,69.4 873.5,48.4M917.6,111.4 914.5,110 913,109 911.5,107.7 910,105.8 908.5,102.4 908.1,97.9 908.6,93.4 910.5,87.4 913.6,81.4 917.6,75.7" fill="none" stroke="#151515" stroke-width="0.8" mask="url(#lblmask)"/>
</g>
<text x="838.5" y="162.3" font-family='"Liberation Sans", sans-serif' font-size="19" text-anchor="middle" transform="rotate(48 838.5 155.5)" fill="#111">5</text>
<text x="832.5" y="236.3" font-family='"Liberation Sans", sans-serif' font-size="19" text-anchor="middle" transform="rotate(57 832.5 229.5)" fill="#111">2,5</text>
<text x="824.5" y="528.8" font-family='"Liberation Sans", sans-serif' font-size="19" text-anchor="middle" transform="rotate(80 824.5 522)" fill="#111">2,5</text>
<rect x="104.5" y="48.4" width="813.1" height="563.8" fill="none" stroke="#3a3a3a" stroke-width="1"/>
<path d="M359,105.2H378M368.5,95.7V114.7M359,161.6H378M368.5,152.1V171.1M359,217.9H378M368.5,208.4V227.4M359,274.3H378M368.5,264.8V283.8M359,330.6H378M368.5,321.1V340.1M359,387H378M368.5,377.5V396.5M359,443.4H378M368.5,433.9V452.9M359,499.7H378M368.5,490.2V509.2M359,556.1H378M368.5,546.6V565.6M359,612.4H378M368.5,602.9V621.9M469,105.2H488M478.5,95.7V114.7M469,161.6H488M478.5,152.1V171.1M469,217.9H488M478.5,208.4V227.4M469,274.3H488M478.5,264.8V283.8M469,330.6H488M478.5,321.1V340.1M469,387H488M478.5,377.5V396.5M469,443.4H488M478.5,433.9V452.9M469,499.7H488M478.5,490.2V509.2M469,556.1H488M478.5,546.6V565.6M469,612.4H488M478.5,602.9V621.9M579,105.2H598M588.5,95.7V114.7M579,161.6H598M588.5,152.1V171.1M579,217.9H598M588.5,208.4V227.4M579,274.3H598M588.5,264.8V283.8M579,330.6H598M588.5,321.1V340.1M579,387H598M588.5,377.5V396.5M579,443.4H598M588.5,433.9V452.9M579,499.7H598M588.5,490.2V509.2M579,556.1H598M588.5,546.6V565.6M579,612.4H598M588.5,602.9V621.9M798,105.2H817M807.5,95.7V114.7M798,161.6H817M807.5,152.1V171.1M798,217.9H817M807.5,208.4V227.4M798,274.3H817M807.5,264.8V283.8M798,330.6H817M807.5,321.1V340.1M798,387H817M807.5,377.5V396.5M798,443.4H817M807.5,433.9V452.9M798,499.7H817M807.5,490.2V509.2M798,556.1H817M807.5,546.6V565.6M798,612.4H817M807.5,602.9V621.9M908.1,105.2H927.1M908.1,161.6H927.1M908.1,217.9H927.1M908.1,274.3H927.1M908.1,330.6H927.1M908.1,387H927.1M908.1,443.4H927.1M908.1,499.7H927.1M908.1,556.1H927.1M908.1,612.4H927.1M917.6,612.2V621.7M95,105.2H114M95,217.9H114M95,330.6H114M95,443.4H114M95,499.7H114M95,612.4H114M104.5,612.2V621.7" fill="none" stroke="#1c1c1c" stroke-width="1" stroke-opacity="0.68"/>
<path d="M94,48.4H102.5M94,142.4H102.5M94,236.3H102.5M94,330.3H102.5M94,424.3H102.5M94,518.2H102.5M94,612.2H102.5" fill="none" stroke="#555" stroke-width="1"/>
<text x="51.3" y="68.9" font-family='"Liberation Serif", serif' font-size="29">0</text>
<text x="51.3" y="159.4" font-family='"Liberation Serif", serif' font-size="29">5</text>
<text x="52.3" y="249.9" font-family='"Liberation Serif", serif' font-size="29">10</text>
<text x="52.3" y="340.4" font-family='"Liberation Serif", serif' font-size="29">15</text>
<text x="52.3" y="430.9" font-family='"Liberation Serif", serif' font-size="29">20</text>
<text x="52.3" y="521.4" font-family='"Liberation Serif", serif' font-size="29">25</text>
<text x="52.3" y="611.9" font-family='"Liberation Serif", serif' font-size="29">30</text>
<text font-family='"Liberation Serif", serif' font-size="33" letter-spacing="0.6" text-anchor="middle" transform="translate(23.5 309.5) rotate(-90)">Depth (cm)</text>
<text x="86.6" y="679.6" font-family='"Liberation Serif", serif' font-size="33.5">26/2</text>
<text x="341.2" y="679.6" font-family='"Liberation Serif", serif' font-size="33.5">10/3</text>
<text x="452.5" y="679.6" font-family='"Liberation Serif", serif' font-size="33.5">15/3</text>
<text x="563" y="679.6" font-family='"Liberation Serif", serif' font-size="33.5">20/3</text>
<text x="733.2" y="679.6" font-family='"Liberation Serif", serif' font-size="33.5">30/3</text>
<text x="852" y="679.6" font-family='"Liberation Serif", serif' font-size="33.5">4/4</text>
<rect x="941" y="49.6" width="374" height="562.8" fill="#fff" stroke="#000" stroke-width="3.2"/>
<path d="M941,612.4V621.3M1034.5,612.4V621.3M1128,612.4V621.3M1221.5,612.4V621.3M1315,612.4V621.3" stroke="#000" stroke-width="3" fill="none"/>
<text x="0" y="0" font-family='"Liberation Sans", sans-serif' font-size="23" text-anchor="middle" transform="translate(941.1 657.1) scale(1.1 1)">0</text>
<text x="0" y="0" font-family='"Liberation Sans", sans-serif' font-size="23" text-anchor="middle" transform="translate(1034.5 657.1) scale(1.1 1)">1</text>
<text x="0" y="0" font-family='"Liberation Sans", sans-serif' font-size="23" text-anchor="middle" transform="translate(1127.8 657.1) scale(1.1 1)">2</text>
<text x="0" y="0" font-family='"Liberation Sans", sans-serif' font-size="23" text-anchor="middle" transform="translate(1221.2 657.1) scale(1.1 1)">3</text>
<text x="0" y="0" font-family='"Liberation Sans", sans-serif' font-size="23" text-anchor="middle" transform="translate(1314.5 657.1) scale(1.1 1)">4</text>
<polyline points="1081.5,105.5 1064.5,218.2 1139.2,331 1097,443.5" fill="none" stroke="#4472c4" stroke-width="4.7" stroke-linejoin="round" stroke-linecap="round"/>
<circle cx="1081.5" cy="105.5" r="7.6" fill="#4472c4"/><circle cx="1064.5" cy="218.2" r="7.6" fill="#4472c4"/><circle cx="1139.2" cy="331" r="7.6" fill="#4472c4"/><circle cx="1097" cy="443.5" r="7.6" fill="#4472c4"/>
<polyline points="1202,105.5 1070,218.2 1017,331 998.2,443.5 1121.5,499.5" fill="none" stroke="#ed7d31" stroke-width="4.7" stroke-linejoin="round" stroke-linecap="round"/>
<circle cx="1202" cy="105.5" r="7.6" fill="#ed7d31"/><circle cx="1070" cy="218.2" r="7.6" fill="#ed7d31"/><circle cx="1017" cy="331" r="7.6" fill="#ed7d31"/><circle cx="998.2" cy="443.5" r="7.6" fill="#ed7d31"/><circle cx="1121.5" cy="499.5" r="7.6" fill="#ed7d31"/>
<polyline points="1122,105.5 1027.2,218.2 1012.5,331 1053.2,443.5 1087,499.5 1180,612.5" fill="none" stroke="#a5a5a5" stroke-width="4.7" stroke-linejoin="round" stroke-linecap="round"/>
<circle cx="1122" cy="105.5" r="7.6" fill="#a5a5a5"/><circle cx="1027.2" cy="218.2" r="7.6" fill="#a5a5a5"/><circle cx="1012.5" cy="331" r="7.6" fill="#a5a5a5"/><circle cx="1053.2" cy="443.5" r="7.6" fill="#a5a5a5"/><circle cx="1087" cy="499.5" r="7.6" fill="#a5a5a5"/><circle cx="1180" cy="612.5" r="7.6" fill="#a5a5a5"/>
<polyline points="1221.8,105.5 1061.8,218.2 1010.5,331 1006.2,443.5 1009.5,499.5 1150.5,612.5" fill="none" stroke="#ffc000" stroke-width="4.7" stroke-linejoin="round" stroke-linecap="round"/>
<circle cx="1221.8" cy="105.5" r="7.6" fill="#ffc000"/><circle cx="1061.8" cy="218.2" r="7.6" fill="#ffc000"/><circle cx="1010.5" cy="331" r="7.6" fill="#ffc000"/><circle cx="1006.2" cy="443.5" r="7.6" fill="#ffc000"/><circle cx="1009.5" cy="499.5" r="7.6" fill="#ffc000"/><circle cx="1150.5" cy="612.5" r="7.6" fill="#ffc000"/>
<polyline points="1124.5,105.5 1047,218.2 960,331 965,443.5 1048.8,499.5 1056.8,612.5" fill="none" stroke="#5b9bd5" stroke-width="4.7" stroke-linejoin="round" stroke-linecap="round"/>
<circle cx="1124.5" cy="105.5" r="7.6" fill="#5b9bd5"/><circle cx="1047" cy="218.2" r="7.6" fill="#5b9bd5"/><circle cx="960" cy="331" r="7.6" fill="#5b9bd5"/><circle cx="965" cy="443.5" r="7.6" fill="#5b9bd5"/><circle cx="1048.8" cy="499.5" r="7.6" fill="#5b9bd5"/><circle cx="1056.8" cy="612.5" r="7.6" fill="#5b9bd5"/>
<polyline points="1037.2,105.5 952.5,218.2 942.5,331 942.5,443.5 952,499.5 943.8,612.5" fill="none" stroke="#70ad47" stroke-width="4.7" stroke-linejoin="round" stroke-linecap="round"/>
<circle cx="1037.2" cy="105.5" r="7.6" fill="#70ad47"/><circle cx="952.5" cy="218.2" r="7.6" fill="#70ad47"/><circle cx="942.5" cy="331" r="7.6" fill="#70ad47"/><circle cx="942.5" cy="443.5" r="7.6" fill="#70ad47"/><circle cx="952" cy="499.5" r="7.6" fill="#70ad47"/><circle cx="943.8" cy="612.5" r="7.6" fill="#70ad47"/>
<path d="M1190.4,299.5H1243.9" stroke="#4472c4" stroke-width="4.6" stroke-linecap="round" fill="none"/><circle cx="1217" cy="299.5" r="7.4" fill="#4472c4"/>
<text x="1249.9" y="308.6" font-family='"Liberation Serif", serif' font-size="27.5">26/2</text>
<path d="M1190.4,347H1243.9" stroke="#ed7d31" stroke-width="4.6" stroke-linecap="round" fill="none"/><circle cx="1217" cy="347" r="7.4" fill="#ed7d31"/>
<text x="1257" y="356.1" font-family='"Liberation Serif", serif' font-size="27.5">10/3</text>
<path d="M1190.4,394.5H1243.9" stroke="#a5a5a5" stroke-width="4.6" stroke-linecap="round" fill="none"/><circle cx="1217" cy="394.5" r="7.4" fill="#a5a5a5"/>
<text x="1257" y="403.6" font-family='"Liberation Serif", serif' font-size="27.5">15/3</text>
<path d="M1190.4,442.5H1243.9" stroke="#ffc000" stroke-width="4.6" stroke-linecap="round" fill="none"/><circle cx="1217" cy="442.5" r="7.4" fill="#ffc000"/>
<text x="1257" y="451.6" font-family='"Liberation Serif", serif' font-size="27.5">20/3</text>
<path d="M1190.4,490.3H1243.9" stroke="#5b9bd5" stroke-width="4.6" stroke-linecap="round" fill="none"/><circle cx="1217" cy="490.3" r="7.4" fill="#5b9bd5"/>
<text x="1257" y="499.4" font-family='"Liberation Serif", serif' font-size="27.5">30/3</text>
<path d="M1190.4,538H1243.9" stroke="#70ad47" stroke-width="4.6" stroke-linecap="round" fill="none"/><circle cx="1217" cy="538" r="7.4" fill="#70ad47"/>
<text x="1257" y="547.1" font-family='"Liberation Serif", serif' font-size="27.5">4/4</text>
<text x="1040.3" y="702.6" font-family='"Liberation Serif", serif' font-size="33">NO<tspan font-size="21" dy="7">3</tspan><tspan dy="-7" dx="16" letter-spacing="0.5">(µmol L</tspan><tspan font-size="21" dy="-12">-1</tspan><tspan dy="12">)</tspan></text>
<rect x="1334.6" y="596" width="34.4" height="20.5" fill="#f7f39a"/>
<rect x="1334.6" y="575.8" width="34.4" height="20.5" fill="#f3f09b"/>
<rect x="1334.6" y="555.5" width="34.4" height="20.5" fill="#ecec9b"/>
<rect x="1334.6" y="535.3" width="34.4" height="20.5" fill="#e4e999"/>
<rect x="1334.6" y="515.1" width="34.4" height="20.5" fill="#dbe698"/>
<rect x="1334.6" y="494.9" width="34.4" height="20.5" fill="#d2e499"/>
<rect x="1334.6" y="474.7" width="34.4" height="20.5" fill="#c9e096"/>
<rect x="1334.6" y="454.4" width="34.4" height="20.5" fill="#c0dd94"/>
<rect x="1334.6" y="434.2" width="34.4" height="20.5" fill="#b5d991"/>
<rect x="1334.6" y="414" width="34.4" height="20.5" fill="#a9d68e"/>
<rect x="1334.6" y="393.8" width="34.4" height="20.5" fill="#9fd28a"/>
<rect x="1334.6" y="373.5" width="34.4" height="20.5" fill="#95ce85"/>
<rect x="1334.6" y="353.3" width="34.4" height="20.5" fill="#8ac981"/>
<rect x="1334.6" y="333.1" width="34.4" height="20.5" fill="#7fc57c"/>
<rect x="1334.6" y="312.9" width="34.4" height="20.5" fill="#74c178"/>
<rect x="1334.6" y="292.7" width="34.4" height="20.5" fill="#68bc72"/>
<rect x="1334.6" y="272.4" width="34.4" height="20.5" fill="#5eb76d"/>
<rect x="1334.6" y="252.2" width="34.4" height="20.5" fill="#54b368"/>
<rect x="1334.6" y="232" width="34.4" height="20.5" fill="#49ae63"/>
<rect x="1334.6" y="211.8" width="34.4" height="20.5" fill="#3eaa5d"/>
<rect x="1334.6" y="191.6" width="34.4" height="20.5" fill="#34a35a"/>
<rect x="1334.6" y="171.3" width="34.4" height="20.5" fill="#2c9c56"/>
<rect x="1334.6" y="151.1" width="34.4" height="20.5" fill="#249552"/>
<rect x="1334.6" y="130.9" width="34.4" height="20.5" fill="#1c8d4d"/>
<rect x="1334.6" y="110.7" width="34.4" height="20.5" fill="#158348"/>
<rect x="1334.6" y="90.4" width="34.4" height="20.5" fill="#0f7943"/>
<rect x="1334.6" y="70.2" width="34.4" height="20.5" fill="#0e7040"/>
<rect x="1334.6" y="50" width="34.4" height="20.5" fill="#10673a"/>
<path d="M1334.6,596H1369M1334.6,575.8H1369M1334.6,555.5H1369M1334.6,535.3H1369M1334.6,494.9H1369M1334.6,474.7H1369M1334.6,454.4H1369M1334.6,434.2H1369M1334.6,393.8H1369M1334.6,373.5H1369M1334.6,353.3H1369M1334.6,333.1H1369M1334.6,292.7H1369M1334.6,272.4H1369M1334.6,252.2H1369M1334.6,232H1369M1334.6,191.6H1369M1334.6,171.3H1369M1334.6,151.1H1369M1334.6,130.9H1369M1334.6,90.4H1369M1334.6,70.2H1369" stroke="#b9c2bd" stroke-opacity="0.7" stroke-width="0.8" fill="none"/>
<path d="M1334.6,514.5H1369M1334.6,413.5H1369M1334.6,312.5H1369M1334.6,211.5H1369M1334.6,110.5H1369" stroke="#222" stroke-width="1" fill="none"/>
<rect x="1334.6" y="50" width="34.4" height="566.2" fill="none" stroke="#8f9a8f" stroke-opacity="0.7" stroke-width="0.8"/>
<text x="1374.4" y="623.8" font-family='"Liberation Sans", sans-serif' font-size="19.2" textLength="10.4" lengthAdjust="spacingAndGlyphs">0</text>
<text x="1374.4" y="583.4" font-family='"Liberation Sans", sans-serif' font-size="19.2" textLength="10.4" lengthAdjust="spacingAndGlyphs">1</text>
<text x="1374.4" y="542.9" font-family='"Liberation Sans", sans-serif' font-size="19.2" textLength="10.4" lengthAdjust="spacingAndGlyphs">2</text>
<text x="1374.4" y="502.5" font-family='"Liberation Sans", sans-serif' font-size="19.2" textLength="10.4" lengthAdjust="spacingAndGlyphs">3</text>
<text x="1374.4" y="462" font-family='"Liberation Sans", sans-serif' font-size="19.2" textLength="10.4" lengthAdjust="spacingAndGlyphs">4</text>
<text x="1374.4" y="421.6" font-family='"Liberation Sans", sans-serif' font-size="19.2" textLength="10.4" lengthAdjust="spacingAndGlyphs">5</text>
<text x="1374.4" y="381.1" font-family='"Liberation Sans", sans-serif' font-size="19.2" textLength="10.4" lengthAdjust="spacingAndGlyphs">6</text>
<text x="1374.4" y="340.7" font-family='"Liberation Sans", sans-serif' font-size="19.2" textLength="10.4" lengthAdjust="spacingAndGlyphs">7</text>
<text x="1374.4" y="300.3" font-family='"Liberation Sans", sans-serif' font-size="19.2" textLength="10.4" lengthAdjust="spacingAndGlyphs">8</text>
<text x="1374.4" y="259.8" font-family='"Liberation Sans", sans-serif' font-size="19.2" textLength="10.4" lengthAdjust="spacingAndGlyphs">9</text>
<text x="1373.4" y="219.4" font-family='"Liberation Sans", sans-serif' font-size="19.2" textLength="21.2" lengthAdjust="spacingAndGlyphs">10</text>
<text x="1373.4" y="178.9" font-family='"Liberation Sans", sans-serif' font-size="19.2" textLength="21.2" lengthAdjust="spacingAndGlyphs">11</text>
<text x="1373.4" y="138.5" font-family='"Liberation Sans", sans-serif' font-size="19.2" textLength="21.2" lengthAdjust="spacingAndGlyphs">12</text>
<text x="1373.4" y="98" font-family='"Liberation Sans", sans-serif' font-size="19.2" textLength="21.2" lengthAdjust="spacingAndGlyphs">13</text>
<text font-family='"Liberation Serif", serif' font-size="33" text-anchor="middle" transform="translate(1412.9 288.8) rotate(90)">Chl a (µg L<tspan font-size="21" dy="-12">-1</tspan><tspan dy="12">)</tspan></text>
</svg></body></html>
